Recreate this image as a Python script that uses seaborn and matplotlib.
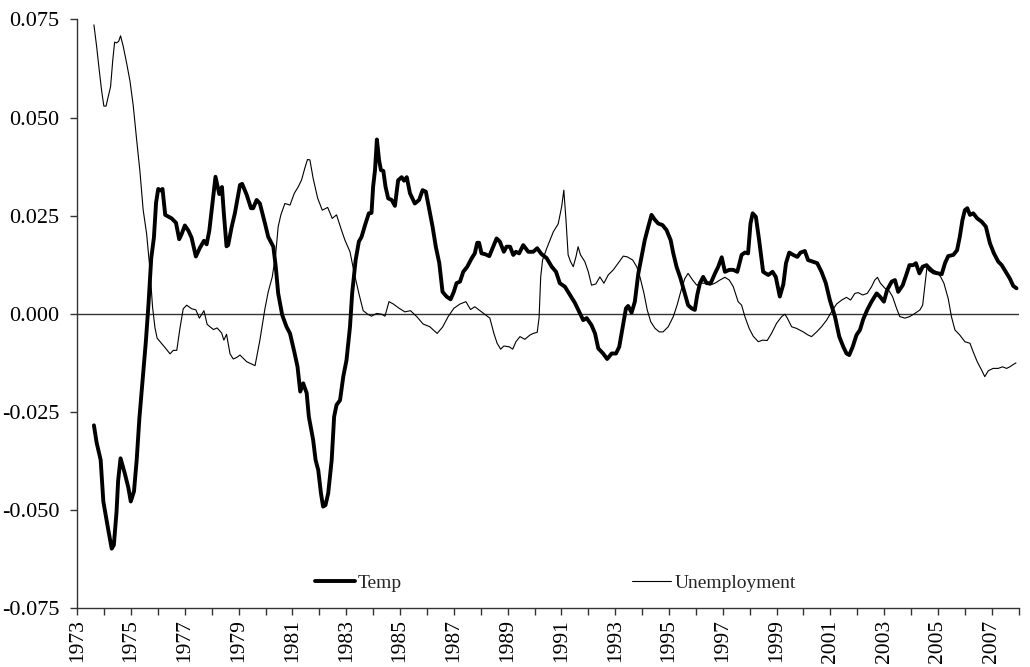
import matplotlib
matplotlib.use("Agg")
import matplotlib.pyplot as plt
import seaborn as sns
import pandas as pd
from matplotlib.ticker import FixedLocator, FuncFormatter

temp_years = [1973.62, 1973.72, 1973.87, 1973.97, 1974.07, 1974.15, 1974.28, 1974.36, 1974.46, 1974.52,
              1974.61, 1974.77, 1974.90, 1974.99, 1975.11, 1975.21, 1975.31, 1975.43, 1975.55, 1975.65,
              1975.75, 1975.85, 1975.93, 1976.01, 1976.10, 1976.17, 1976.27, 1976.38, 1976.51, 1976.67,
              1976.79, 1976.88, 1977.00, 1977.13, 1977.25, 1977.41, 1977.56, 1977.71, 1977.81, 1977.91,
              1978.03, 1978.14, 1978.28, 1978.38, 1978.45, 1978.55, 1978.61, 1978.74, 1978.86, 1979.05,
              1979.13, 1979.30, 1979.46, 1979.54, 1979.67, 1979.79, 1979.98, 1980.10, 1980.29, 1980.38,
              1980.47, 1980.62, 1980.78, 1980.91, 1981.07, 1981.19, 1981.29, 1981.40, 1981.53, 1981.61,
              1981.77, 1981.86, 1981.96, 1982.06, 1982.14, 1982.23, 1982.33, 1982.46, 1982.55, 1982.64,
              1982.77, 1982.89, 1983.01, 1983.14, 1983.22, 1983.35, 1983.47, 1983.57, 1983.70, 1983.84,
              1983.94, 1984.00, 1984.07, 1984.14, 1984.22, 1984.29, 1984.38, 1984.46, 1984.56, 1984.69,
              1984.81, 1984.93, 1985.06, 1985.15, 1985.25, 1985.37, 1985.55, 1985.71, 1985.84, 1985.96,
              1986.09, 1986.21, 1986.33, 1986.46, 1986.58, 1986.73, 1986.88, 1987.00, 1987.10, 1987.23,
              1987.35, 1987.50, 1987.66, 1987.78, 1987.87, 1987.94, 1988.03, 1988.16, 1988.32, 1988.44,
              1988.59, 1988.71, 1988.86, 1988.96, 1989.09, 1989.21, 1989.31, 1989.43, 1989.58, 1989.77,
              1989.95, 1990.10, 1990.26, 1990.45, 1990.64, 1990.80, 1990.94, 1991.13, 1991.32, 1991.50,
              1991.69, 1991.81, 1991.94, 1992.12, 1992.25, 1992.37, 1992.55, 1992.70, 1992.87, 1993.03,
              1993.15, 1993.28, 1993.40, 1993.48, 1993.61, 1993.73, 1993.86, 1993.98, 1994.10, 1994.23,
              1994.35, 1994.48, 1994.60, 1994.76, 1994.91, 1995.06, 1995.16, 1995.28, 1995.43, 1995.55,
              1995.71, 1995.84, 1995.96, 1996.05, 1996.15, 1996.27, 1996.40, 1996.55, 1996.71, 1996.83,
              1996.96, 1997.08, 1997.24, 1997.39, 1997.54, 1997.70, 1997.82, 1997.94, 1998.03, 1998.11,
              1998.23, 1998.35, 1998.50, 1998.69, 1998.85, 1998.97, 1999.12, 1999.25, 1999.35, 1999.47,
              1999.62, 1999.77, 1999.89, 2000.05, 2000.17, 2000.34, 2000.51, 2000.67, 2000.83, 2000.98,
              2001.17, 2001.33, 2001.48, 2001.60, 2001.70, 2001.83, 2001.97, 2002.10, 2002.22, 2002.37,
              2002.53, 2002.72, 2002.84, 2002.99, 2003.11, 2003.28, 2003.40, 2003.52, 2003.69, 2003.84,
              2003.94, 2004.08, 2004.18, 2004.31, 2004.43, 2004.58, 2004.70, 2004.85, 2005.01, 2005.14,
              2005.26, 2005.38, 2005.57, 2005.71, 2005.81, 2005.91, 2006.00, 2006.09, 2006.19, 2006.31,
              2006.46, 2006.62, 2006.78, 2006.93, 2007.08, 2007.24, 2007.37, 2007.52, 2007.67, 2007.80,
              2007.92]
temp_values = [-0.0284, -0.0328, -0.0372, -0.0478, -0.0518, -0.0549, -0.0598, -0.0589, -0.0505, -0.0425,
               -0.0368, -0.0407, -0.0443, -0.0478, -0.0452, -0.0372, -0.0266, -0.0169, -0.0071, 0.0026,
               0.0141, 0.0194, 0.0283, 0.0318, 0.0314, 0.0318, 0.0252, 0.0248, 0.0243, 0.0232,
               0.0190, 0.0203, 0.0225, 0.0212, 0.0194, 0.0146, 0.0168, 0.0186, 0.0177, 0.0212,
               0.0283, 0.0349, 0.0305, 0.0323, 0.0256, 0.0172, 0.0175, 0.0221, 0.0256, 0.0328,
               0.0331, 0.0303, 0.0269, 0.0269, 0.0290, 0.0281, 0.0230, 0.0196, 0.0171, 0.0120,
               0.0052, -0.0003, -0.0033, -0.0050, -0.0097, -0.0135, -0.0198, -0.0177, -0.0202, -0.0262,
               -0.0321, -0.0372, -0.0398, -0.0457, -0.0491, -0.0487, -0.0457, -0.0372, -0.0262, -0.0232,
               -0.0220, -0.0160, -0.0118, -0.0033, 0.0052, 0.0137, 0.0184, 0.0196, 0.0226, 0.0256,
               0.0257, 0.0324, 0.0366, 0.0444, 0.0392, 0.0366, 0.0364, 0.0324, 0.0294, 0.0290,
               0.0275, 0.0340, 0.0348, 0.0339, 0.0348, 0.0307, 0.0281, 0.0290, 0.0315, 0.0311,
               0.0264, 0.0222, 0.0171, 0.0129, 0.0056, 0.0044, 0.0037, 0.0056, 0.0078, 0.0082,
               0.0107, 0.0120, 0.0141, 0.0154, 0.0181, 0.0181, 0.0154, 0.0152, 0.0147, 0.0167,
               0.0192, 0.0184, 0.0158, 0.0171, 0.0171, 0.0150, 0.0158, 0.0154, 0.0175, 0.0158,
               0.0158, 0.0167, 0.0152, 0.0142, 0.0120, 0.0107, 0.0078, 0.0069, 0.0048, 0.0028,
               0.0001, -0.0016, -0.0011, -0.0029, -0.0050, -0.0088, -0.0101, -0.0115, -0.0101, -0.0101,
               -0.0084, -0.0033, 0.0014, 0.0020, 0.0003, 0.0031, 0.0103, 0.0145, 0.0188, 0.0222,
               0.0252, 0.0239, 0.0230, 0.0226, 0.0213, 0.0188, 0.0154, 0.0120, 0.0090, 0.0061,
               0.0022, 0.0014, 0.0010, 0.0048, 0.0078, 0.0094, 0.0078, 0.0078, 0.0103, 0.0120,
               0.0144, 0.0107, 0.0112, 0.0112, 0.0107, 0.0150, 0.0156, 0.0154, 0.0230, 0.0256,
               0.0247, 0.0188, 0.0107, 0.0099, 0.0107, 0.0094, 0.0044, 0.0075, 0.0129, 0.0156,
               0.0150, 0.0145, 0.0156, 0.0160, 0.0137, 0.0133, 0.0129, 0.0107, 0.0078, 0.0035,
               -0.0007, -0.0058, -0.0084, -0.0101, -0.0105, -0.0084, -0.0054, -0.0041, -0.0014, 0.0010,
               0.0031, 0.0052, 0.0044, 0.0031, 0.0061, 0.0082, 0.0086, 0.0056, 0.0073, 0.0103,
               0.0124, 0.0124, 0.0129, 0.0103, 0.0120, 0.0124, 0.0112, 0.0105, 0.0103, 0.0101,
               0.0129, 0.0147, 0.0150, 0.0162, 0.0196, 0.0239, 0.0264, 0.0269, 0.0252, 0.0256,
               0.0243, 0.0235, 0.0222, 0.0180, 0.0154, 0.0133, 0.0124, 0.0107, 0.0090, 0.0071,
               0.0065]

unemp_years = [1973.62, 1973.72, 1973.82, 1973.91, 1973.99, 1974.07, 1974.15, 1974.24, 1974.32, 1974.39,
               1974.46, 1974.54, 1974.61, 1974.71, 1974.84, 1974.96, 1975.08, 1975.21, 1975.33, 1975.45,
               1975.58, 1975.70, 1975.80, 1975.89, 1975.97, 1976.14, 1976.30, 1976.45, 1976.57, 1976.70,
               1976.82, 1976.94, 1977.07, 1977.25, 1977.41, 1977.54, 1977.71, 1977.83, 1978.06, 1978.20,
               1978.37, 1978.45, 1978.55, 1978.68, 1978.80, 1978.93, 1979.05, 1979.30, 1979.61, 1979.79,
               1979.98, 1980.10, 1980.25, 1980.38, 1980.47, 1980.57, 1980.72, 1980.91, 1981.07, 1981.22,
               1981.34, 1981.46, 1981.56, 1981.65, 1981.77, 1981.94, 1982.11, 1982.31, 1982.48, 1982.64,
               1982.80, 1982.95, 1983.14, 1983.30, 1983.47, 1983.63, 1983.80, 1983.94, 1984.13, 1984.32,
               1984.44, 1984.59, 1984.75, 1984.97, 1985.18, 1985.39, 1985.62, 1985.86, 1986.11, 1986.38,
               1986.58, 1986.79, 1987.00, 1987.23, 1987.45, 1987.62, 1987.78, 1988.03, 1988.34, 1988.49,
               1988.61, 1988.74, 1988.86, 1989.06, 1989.19, 1989.31, 1989.46, 1989.64, 1989.83, 1989.95,
               1990.10, 1990.17, 1990.23, 1990.30, 1990.45, 1990.70, 1990.88, 1991.01, 1991.09, 1991.17,
               1991.25, 1991.34, 1991.44, 1991.54, 1991.62, 1991.71, 1991.87, 1992.00, 1992.12, 1992.28,
               1992.43, 1992.58, 1992.74, 1992.93, 1993.11, 1993.30, 1993.45, 1993.65, 1993.80, 1993.92,
               1994.07, 1994.19, 1994.32, 1994.48, 1994.64, 1994.78, 1994.97, 1995.16, 1995.30, 1995.47,
               1995.59, 1995.71, 1995.88, 1996.03, 1996.17, 1996.33, 1996.52, 1996.71, 1996.89, 1997.08,
               1997.24, 1997.39, 1997.57, 1997.70, 1997.82, 1997.98, 1998.13, 1998.32, 1998.48, 1998.65,
               1998.81, 1999.00, 1999.19, 1999.31, 1999.40, 1999.56, 1999.74, 1999.99, 2000.17, 2000.30,
               2000.49, 2000.67, 2000.86, 2001.04, 2001.23, 2001.42, 2001.60, 2001.75, 2001.91, 2002.03,
               2002.20, 2002.37, 2002.53, 2002.65, 2002.75, 2002.86, 2003.03, 2003.15, 2003.31, 2003.46,
               2003.58, 2003.77, 2003.95, 2004.14, 2004.33, 2004.43, 2004.48, 2004.55, 2004.60, 2004.70,
               2004.82, 2004.95, 2005.10, 2005.22, 2005.38, 2005.50, 2005.63, 2005.81, 2006.00, 2006.19,
               2006.31, 2006.46, 2006.62, 2006.74, 2006.87, 2007.05, 2007.24, 2007.40, 2007.55, 2007.67,
               2007.80, 2007.90]
unemp_values = [0.0736, 0.0681, 0.0619, 0.0566, 0.0529, 0.0529, 0.0553, 0.0579, 0.0646, 0.0692,
                0.0690, 0.0694, 0.0708, 0.0681, 0.0637, 0.0593, 0.0531, 0.0442, 0.0363, 0.0265,
                0.0203, 0.0115, 0.0017, -0.0036, -0.0062, -0.0076, -0.0089, -0.0102, -0.0093, -0.0093,
                -0.0036, 0.0013, 0.0022, 0.0013, 0.0010, -0.0011, 0.0008, -0.0027, -0.0040, -0.0036,
                -0.0049, -0.0067, -0.0052, -0.0102, -0.0115, -0.0111, -0.0105, -0.0122, -0.0132, -0.0067,
                0.0014, 0.0056, 0.0094, 0.0154, 0.0222, 0.0252, 0.0281, 0.0277, 0.0307, 0.0324,
                0.0341, 0.0371, 0.0393, 0.0392, 0.0345, 0.0294, 0.0264, 0.0271, 0.0243, 0.0252,
                0.0218, 0.0188, 0.0158, 0.0103, 0.0052, 0.0008, -0.0001, -0.0006, 0.0001, -0.0001,
                -0.0006, 0.0031, 0.0025, 0.0014, 0.0005, 0.0008, -0.0007, -0.0026, -0.0033, -0.0050,
                -0.0034, -0.0007, 0.0014, 0.0025, 0.0031, 0.0011, 0.0018, 0.0005, -0.0011, -0.0050,
                -0.0075, -0.0090, -0.0082, -0.0084, -0.0090, -0.0071, -0.0058, -0.0065, -0.0054, -0.0050,
                -0.0047, -0.0010, 0.0094, 0.0137, 0.0166, 0.0209, 0.0229, 0.0273, 0.0315, 0.0239,
                0.0150, 0.0133, 0.0120, 0.0145, 0.0171, 0.0150, 0.0133, 0.0107, 0.0073, 0.0076,
                0.0094, 0.0078, 0.0099, 0.0112, 0.0129, 0.0147, 0.0145, 0.0137, 0.0120, 0.0094,
                0.0052, 0.0010, -0.0020, -0.0037, -0.0046, -0.0046, -0.0033, -0.0007, 0.0022, 0.0065,
                0.0090, 0.0103, 0.0086, 0.0073, 0.0078, 0.0078, 0.0073, 0.0078, 0.0086, 0.0093,
                0.0086, 0.0069, 0.0031, 0.0022, -0.0007, -0.0037, -0.0057, -0.0071, -0.0067, -0.0068,
                -0.0050, -0.0024, -0.0007, -0.0001, -0.0011, -0.0033, -0.0037, -0.0046, -0.0054, -0.0058,
                -0.0046, -0.0033, -0.0016, 0.0005, 0.0025, 0.0035, 0.0042, 0.0035, 0.0052, 0.0054,
                0.0048, 0.0052, 0.0069, 0.0086, 0.0093, 0.0078, 0.0065, 0.0062, 0.0044, 0.0014,
                -0.0007, -0.0011, -0.0007, 0.0001, 0.0010, 0.0022, 0.0052, 0.0094, 0.0124, 0.0120,
                0.0112, 0.0107, 0.0094, 0.0078, 0.0039, -0.0007, -0.0041, -0.0054, -0.0071, -0.0075,
                -0.0097, -0.0122, -0.0143, -0.0160, -0.0145, -0.0139, -0.0139, -0.0135, -0.0139, -0.0135,
                -0.0129, -0.0125]

year_ticks = list(range(1973, 2009))
year_labels = [str(y) if (y - 1973) % 2 == 0 else "" for y in year_ticks]
y_ticks = [-0.075, -0.050, -0.025, 0.000, 0.025, 0.050, 0.075]

sns.set_style("ticks")
plt.rcParams['font.family'] = ['Liberation Serif', 'DejaVu Serif']
plt.rcParams['axes.unicode_minus'] = False

temp_df = pd.DataFrame({"year": temp_years, "value": temp_values})
unemp_df = pd.DataFrame({"year": unemp_years, "value": unemp_values})

fig = plt.figure(figsize=(10.30, 6.67), dpi=100)
ax = fig.add_axes([0.075, 0.088, 0.914, 0.883])

ax.axhline(0, color="#333333", linewidth=1.0, zorder=1)
sns.lineplot(data=temp_df, x="year", y="value", ax=ax, color="black", linewidth=2.8,
             label="Temp", sort=False, estimator=None, zorder=3)
sns.lineplot(data=unemp_df, x="year", y="value", ax=ax, color="black", linewidth=0.8,
             label="Unemployment", sort=False, estimator=None, zorder=2)

ax.set_xlim(1973, 2008)
ax.set_ylim(-0.075, 0.075)
ax.xaxis.set_major_locator(FixedLocator(year_ticks))
ax.set_xticklabels(year_labels, rotation=90)
ax.yaxis.set_major_locator(FixedLocator(y_ticks))
ax.yaxis.set_major_formatter(FuncFormatter(lambda v, p: f"{v:.3f}"))
ax.set_xlabel("")
ax.set_ylabel("")

for s in ["top", "right"]:
    ax.spines[s].set_visible(False)
for s in ["left", "bottom"]:
    ax.spines[s].set_color("#333333")
    ax.spines[s].set_linewidth(1.0)
ax.tick_params(axis="both", direction="out", length=5, width=1.0, color="#333333",
               labelcolor="black")
ax.tick_params(axis="y", pad=8, labelsize=16)
ax.tick_params(axis="x", pad=3, labelsize=15.5)

leg = ax.legend(loc="center", bbox_to_anchor=(0.508, 0.043), ncol=2, frameon=False,
                fontsize=14, handlelength=2.05, handletextpad=0.15, columnspacing=11.8)

fig.savefig("out.png", dpi=100)
